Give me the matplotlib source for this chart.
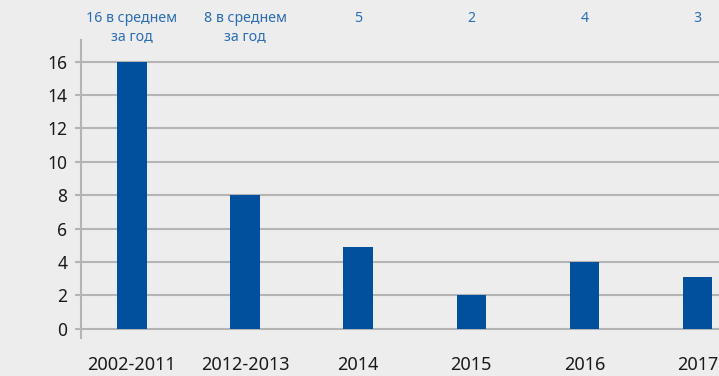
import matplotlib.pyplot as plt
from matplotlib.transforms import blended_transform_factory

plt.rcParams['font.family'] = ['Noto Sans', 'DejaVu Sans']

# periods and number of cases
periods = ["2002-2011", "2012-2013", "2014", "2015", "2016", "2017"]
counts = [16, 8, 4.9, 2, 4, 3.1]
notes = ["16 в среднем\nза год", "8 в среднем\nза год", "5", "2", "4", "3"]

bg = "#ededed"
bar_color = "#00509e"
grid_color = "#b4b4b4"
note_color = "#2a6db5"

fig = plt.figure(figsize=(7.19, 3.76), dpi=100, facecolor=bg)
ax = fig.add_axes([0.1127, 0.101, 0.8873, 0.793], facecolor=bg)

x = list(range(len(periods)))
ax.bar(x, counts, width=0.26, color=bar_color, zorder=3)

ax.set_xlim(-0.45, 5.19)
ax.set_ylim(-0.55, 17.3)
ax.set_yticks(range(0, 17, 2))
ax.set_xticks(x)
ax.set_xticklabels(periods)
ax.grid(True, axis="y", color=grid_color, linewidth=1.5, zorder=1)

for s in ["top", "right", "bottom"]:
    ax.spines[s].set_visible(False)
ax.spines["left"].set_color(grid_color)
ax.spines["left"].set_linewidth(1.5)

ax.tick_params(axis="x", length=0, pad=13, labelsize=13, labelcolor="#1a1a1a")
ax.tick_params(axis="y", length=4, width=1.5, color=grid_color, pad=6,
               labelsize=12.5, labelcolor="#1a1a1a")

# notes above each column
trans = blended_transform_factory(ax.transData, fig.transFigure)
for xi, note in zip(x, notes):
    ax.text(xi, 1 - 11 / 376, note, transform=trans, ha="center", va="top",
            fontsize=10.2, color=note_color, linespacing=1.3)

fig.savefig("out.png", dpi=100, facecolor=bg)
